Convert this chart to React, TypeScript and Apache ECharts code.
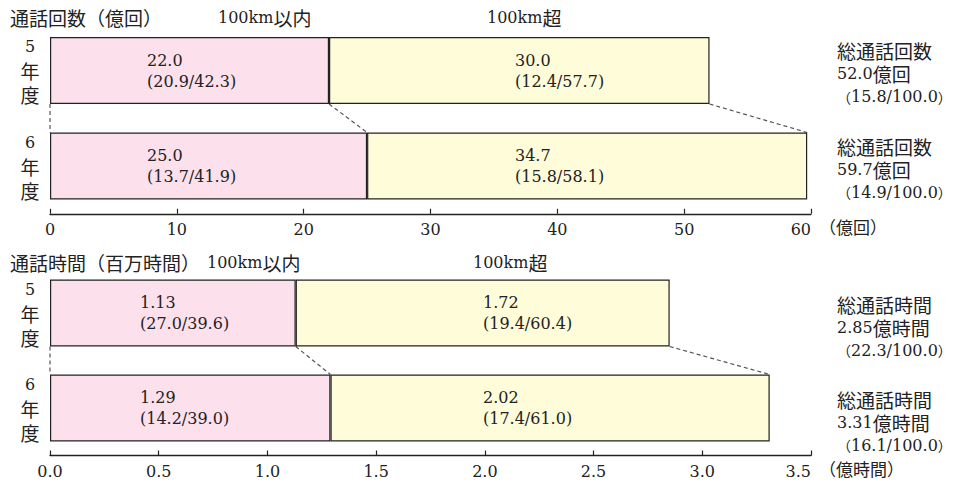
import React, { useEffect, useRef } from 'react';
import * as echarts from 'echarts';

// ---- data ----
const years = ['5', '6'];
const callsWithin = [22.0, 25.0];
const callsBeyond = [30.0, 34.7];
const callsWithinShare = ['20.9/42.3', '13.7/41.9'];
const callsBeyondShare = ['12.4/57.7', '15.8/58.1'];
const callsTotal = ['52.0', '59.7'];
const callsTotalShare = ['15.8/100.0', '14.9/100.0'];
const timeWithin = [1.13, 1.29];
const timeBeyond = [1.72, 2.02];
const timeWithinShare = ['27.0/39.6', '14.2/39.0'];
const timeBeyondShare = ['19.4/60.4', '17.4/61.0'];
const timeTotal = ['2.85', '3.31'];
const timeTotalShare = ['22.3/100.0', '16.1/100.0'];
const callsAxis = [0, 60, 10];
const timeAxis = [0, 3.5, 0.5];
const axisUnits = ['（億回）', '（億時間）'];

// ---- style ----
const SERIF = "'DejaVu Serif', 'Noto Sans CJK JP', serif";
const CJK = "'Noto Sans CJK JP', sans-serif";
const INK = '#222';
const PINK = '#fce0ec';
const YELLOW = '#fefcd9';

const rich = (lh: number) => ({
  n: { fontFamily: SERIF, fontSize: 16, fontWeight: 'normal', color: INK, lineHeight: lh },
  c: { fontFamily: CJK, fontSize: 19, fontWeight: 'normal', color: INK, lineHeight: lh },
  p: { fontFamily: CJK, fontSize: 14, fontWeight: 'normal', color: INK, lineHeight: lh },
});

const GRIDS = [
  { left: 50, right: 142, top: 22.75, height: 191 },
  { left: 50, right: 142, top: 265.5, height: 190 },
];
const LABEL_X = [
  [147, 515],
  [140, 483],
];
const RIGHT_PAD = [6, 28];

function buildOption() {
  const xAxis = [callsAxis, timeAxis].map((a, gi) => ({
    type: 'value',
    gridIndex: gi,
    min: a[0],
    max: a[1],
    interval: a[2],
    axisLine: { show: true, lineStyle: { color: INK, width: 1.3 } },
    axisTick: { show: true, inside: true, length: 5, lineStyle: { color: INK, width: 1.2 } },
    splitLine: { show: false },
    axisLabel: {
      fontFamily: SERIF,
      fontSize: 16,
      color: INK,
      margin: 8,
      alignMaxLabel: 'right',
      formatter: (v: number) => (gi === 0 ? String(v) : v.toFixed(1)),
    },
  }));

  const totals = [callsTotal, timeTotal];
  const totalShares = [callsTotalShare, timeTotalShare];
  const totalHeads = ['総通話回数', '総通話時間'];
  const totalUnits = ['億回', '億時間'];

  const yAxis: any[] = [];
  [0, 1].forEach((gi) => {
    yAxis.push({
      type: 'category',
      gridIndex: gi,
      inverse: true,
      data: years,
      axisLine: { show: false },
      axisTick: { show: false },
      axisLabel: {
        align: 'center',
        margin: 20,
        formatter: (v: string) => `{n|${v}}\n{c|年}\n{c|度}`,
        rich: rich(24),
      },
    });
    yAxis.push({
      type: 'category',
      gridIndex: gi,
      inverse: true,
      position: 'right',
      data: years,
      axisLine: { show: false },
      axisTick: { show: false },
      axisLabel: {
        align: 'left',
        margin: 26,
        padding: [RIGHT_PAD[gi], 0, 0, 0],
        formatter: (_v: string, i: number) =>
          `{c|${totalHeads[gi]}}\n{n|${totals[gi][i]}}{c|${totalUnits[gi]}}\n{p|（}{n|${totalShares[gi][i]}}{p|）}`,
        rich: rich(23),
      },
    });
  });

  const mk = (gi: number, name: string, vals: number[], shares: string[], color: string) => ({
    type: 'bar',
    name,
    xAxisIndex: gi,
    yAxisIndex: gi * 2,
    stack: 'g' + gi,
    barWidth: 67,
    itemStyle: { color, borderColor: INK, borderWidth: 1.2 },
    label: {
      show: true,
      fontFamily: SERIF,
      fontSize: 16,
      lineHeight: 21,
      color: INK,
      align: 'left',
      verticalAlign: 'middle',
      formatter: (p: any) => `${gi === 0 ? vals[p.dataIndex].toFixed(1) : vals[p.dataIndex].toFixed(2)}\n(${shares[p.dataIndex]})`,
    },
    data: vals.slice(),
  });

  const series = [
    mk(0, '100km以内', callsWithin, callsWithinShare, PINK),
    mk(0, '100km超', callsBeyond, callsBeyondShare, YELLOW),
    mk(1, '100km以内', timeWithin, timeWithinShare, PINK),
    mk(1, '100km超', timeBeyond, timeBeyondShare, YELLOW),
  ];

  const tStyle = { fontWeight: 'normal', rich: rich(22) };
  const title = [
    { text: '{c|通話回数（億回）}', left: 10, top: 6, padding: 0, textStyle: tStyle },
    { text: '{n|100km}{c|以内}', left: 218, top: 6, padding: 0, textStyle: tStyle },
    { text: '{n|100km}{c|超}', left: 487, top: 6, padding: 0, textStyle: tStyle },
    { text: '{c|通話時間（百万時間）}', left: 10, top: 251, padding: 0, textStyle: tStyle },
    { text: '{n|100km}{c|以内}', left: 207, top: 251, padding: 0, textStyle: tStyle },
    { text: '{n|100km}{c|超}', left: 473, top: 251, padding: 0, textStyle: tStyle },
  ];

  return {
    animation: false,
    backgroundColor: '#ffffff',
    title,
    grid: GRIDS.map((g) => ({ ...g, containLabel: false, outerBoundsMode: 'none' })),
    xAxis,
    yAxis,
    series,
  };
}

export default function App() {
  const ref = useRef<HTMLDivElement>(null);
  useEffect(() => {
    if (!ref.current) return;
    const chart = echarts.init(ref.current, null, { renderer: 'svg' });
    chart.setOption(buildOption() as any);

    const within = [callsWithin, timeWithin];
    const beyond = [callsBeyond, timeBeyond];
    const maxes = [callsAxis[1], timeAxis[1]];
    const half = 67 / 2;
    const px = (gi: number, v: number) => chart.convertToPixel({ xAxisIndex: gi } as any, v) as number;
    const py = (gi: number, i: number) => chart.convertToPixel({ yAxisIndex: gi * 2 } as any, i) as number;

    const seriesUpd: any[] = [];
    const graphic: any[] = [];
    [0, 1].forEach((gi) => {
      seriesUpd.push({
        data: within[gi].map((v) => ({ value: v, label: { position: [LABEL_X[gi][0] - px(gi, 0), '50%'] } })),
      });
      seriesUpd.push({
        data: beyond[gi].map((v, i) => ({ value: v, label: { position: [LABEL_X[gi][1] - px(gi, within[gi][i]), '50%'] } })),
      });
      const yb = py(gi, 0) + half;
      const yt = py(gi, 1) - half;
      const pts = [
        [0, 0],
        [within[gi][0], within[gi][1]],
        [within[gi][0] + beyond[gi][0], within[gi][1] + beyond[gi][1]],
      ];
      pts.forEach(([a, b]) => {
        graphic.push({
          type: 'line',
          shape: { x1: px(gi, a), y1: yb, x2: px(gi, b), y2: yt },
          style: { stroke: '#555', lineWidth: 1.2, lineDash: [4, 3] },
          z: 1,
        });
      });
      const axisY = GRIDS[gi].top + GRIDS[gi].height;
      graphic.push({
        type: 'text',
        x: px(gi, maxes[gi]) + 8,
        y: axisY + 13,
        style: {
          text: axisUnits[gi],
          fontFamily: CJK,
          fontSize: 17,
          lineHeight: 20,
          fill: INK,
          align: 'left',
          verticalAlign: 'middle',
        },
      });
    });
    chart.setOption({ series: seriesUpd, graphic } as any);
    return () => chart.dispose();
  }, []);
  return <div ref={ref} style={{ position: 'fixed', left: 0, top: 0, width: 953, height: 481 }} />;
}
